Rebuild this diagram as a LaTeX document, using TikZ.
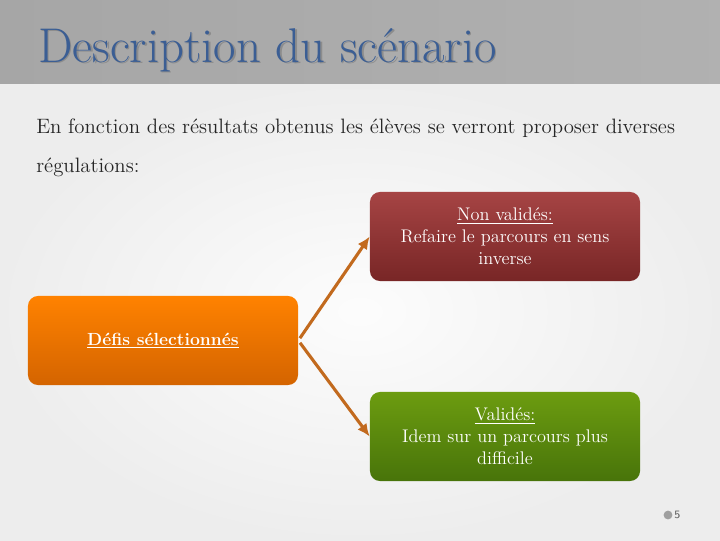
\documentclass[tikz,border=0pt]{standalone}
\usepackage{xcolor}
\usepackage{tikz}
\usetikzlibrary{arrows.meta,positioning}
\definecolor{titleblue}{RGB}{59,94,148}
\definecolor{bargray}{RGB}{166,166,166}
\definecolor{redtop}{RGB}{166,68,68}
\definecolor{redbot}{RGB}{120,38,38}
\definecolor{orangetop}{RGB}{255,130,0}
\definecolor{orangebot}{RGB}{212,100,0}
\definecolor{greentop}{RGB}{108,156,16}
\definecolor{greenbot}{RGB}{72,116,10}
\definecolor{arrowbrown}{RGB}{194,106,30}

\begin{document}
\begin{tikzpicture}[x=0.025cm, y=-0.025cm,
  box/.style = {rounded corners=0.25cm, minimum width=6.75cm, minimum height=2.225cm,
                align=center, text=white, inner sep=0pt,
                font=\fontsize{13}{15.6}\selectfont},
  intro/.style = {anchor=base west, inner sep=0pt, text=black!85, font=\fontsize{14.8}{16}\selectfont},
  conn/.style = {draw=arrowbrown, line width=2.2pt, -{Latex[length=9pt,width=8pt]}, shorten <=2pt}]

\useasboundingbox (0,0) rectangle (720,540);
% slide background
\shade[inner color=gray!2, outer color=gray!14] (0,83) rectangle (720,540);
\shade[left color=bargray, right color=bargray!88] (0,0) rectangle (720,83);

\node (titleshadow) at (39.5,63.5) [anchor=base west, inner sep=0pt, text=black!45, font=\fontsize{34.7}{40}\selectfont]{Description du scénario};
\node (title) at (38,62) [anchor=base west, inner sep=0pt, text=titleblue, font=\fontsize{34.7}{40}\selectfont]{Description du scénario};

\node (intro1) at (36,133) [intro]{En fonction des résultats obtenus les élèves se verront proposer diverses};
\node (intro2) at (36,172) [intro]{régulations:};

\node (nonval) at (505,236.5) [box, top color=redtop, bottom color=redbot]{\underline{Non validés:}\\Refaire le parcours en sens\\inverse};
\node (defis) at (163,340.5) [box, top color=orangetop, bottom color=orangebot]{\fontsize{12.5}{15}\selectfont\underline{\textbf{Défis sélectionnés}}};
\node (val) at (505,436.5) [box, top color=greentop, bottom color=greenbot]{\underline{Validés:}\\Idem sur un parcours plus\\difficile};

\draw[conn] (defis.east) -- (nonval.west);
\draw[conn] (defis.east) -- (val.west);

% page number
\node (pgdot) at (668,515) [circle, fill=gray!75, inner sep=0pt, minimum size=0.22cm]{};
\node (pgnum) [right=1pt of pgdot, inner sep=0pt, text=gray!70!black, font=\sffamily\fontsize{8}{8}\selectfont]{5};

\end{tikzpicture}
\end{document}
